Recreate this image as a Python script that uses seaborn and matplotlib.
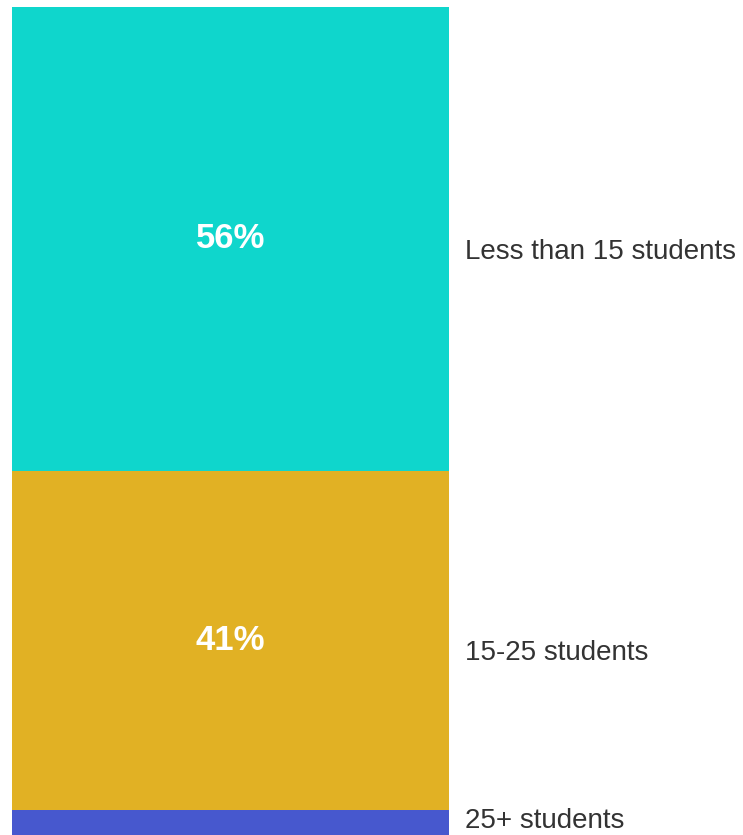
import numpy as np
import pandas as pd
import matplotlib
matplotlib.use("Agg")
import matplotlib.pyplot as plt
import matplotlib.transforms as mtransforms
import seaborn as sns

# data: segments from bottom to top
labels = ["25+ students", "15-25 students", "Less than 15 students"]
shares = [3, 41, 56]
colors = ["#4758CE", "#E1B124", "#0FD6CC"]
show_pct = [False, True, True]

sns.set_theme(style="white")
plt.rcParams['font.family'] = ['Liberation Sans', 'DejaVu Sans']

fig = plt.figure(figsize=(7.43, 8.35), dpi=100)
ax = fig.add_axes([12 / 743, 0, 437 / 743, 1 - 7 / 835])

tops = np.cumsum(shares)
bottoms = tops - np.array(shares)

# draw cumulative bars from the tallest down so each segment shows
for i in reversed(range(len(shares))):
    df = pd.DataFrame({"grp": ["all"], "val": [tops[i]]})
    sns.barplot(data=df, x="grp", y="val", color=colors[i], width=1.0,
                saturation=1, ax=ax, linewidth=0)

ax.set_xlim(-0.5, 0.5)
ax.set_ylim(0, 100)
ax.axis("off")

trans = mtransforms.blended_transform_factory(ax.transAxes, ax.transData)
for i in range(len(shares)):
    mid = (bottoms[i] + tops[i]) / 2
    if show_pct[i]:
        ax.text(0, mid, f"{shares[i]}%", ha="center", va="center",
                color="white", fontsize=25, fontweight="bold")
    # category label a bit below the middle, kept inside the canvas
    base = max(mid - 2.4, 0.9)
    ax.text(1.037, base, labels[i], transform=trans, ha="left",
            va="baseline", color="#333333", fontsize=20, clip_on=False)

fig.savefig("out.png", dpi=100)
